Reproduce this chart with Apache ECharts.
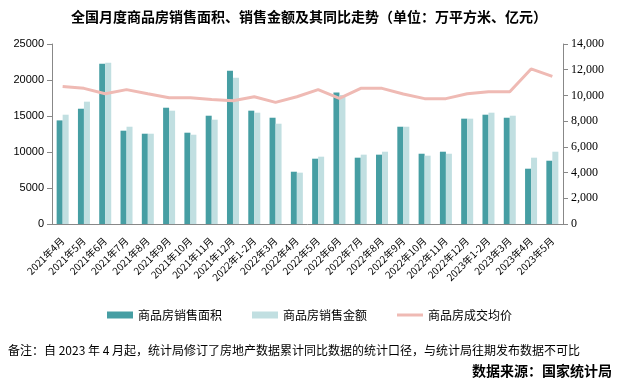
<!DOCTYPE html>
<html>
<head>
<meta charset="utf-8">
<script src="https://cdn.jsdelivr.net/npm/echarts@6/dist/echarts.min.js"></script>
<style>html,body{margin:0;padding:0;background:#fff;}#c{width:623px;height:385px;}</style>
</head>
<body>
<div id="c"></div>
<script>
var categories = ['2021年4月','2021年5月','2021年6月','2021年7月','2021年8月','2021年9月','2021年10月','2021年11月','2021年12月','2022年1-2月','2022年3月','2022年4月','2022年5月','2022年6月','2022年7月','2022年8月','2022年9月','2022年10月','2022年11月','2022年12月','2023年1-2月','2023年3月','2023年4月','2023年5月'];
var salesArea = [14390,16010,22260,12960,12540,16150,12680,15040,21290,15740,14760,7260,9070,18250,9210,9630,13510,9760,10040,14630,15180,14760,7680,8790];
var salesAmount = [15180,16990,22400,13510,12540,15740,12400,14490,20320,15460,13930,7130,9350,17900,9630,10040,13510,9490,9760,14630,15460,15040,9210,10040];
var avgPrice = [10700,10550,10130,10450,10130,9820,9820,9690,9590,9900,9460,9900,10450,9770,10550,10550,10110,9750,9750,10130,10290,10290,12060,11480];
var leftTicks = [0,5000,10000,15000,20000,25000];
var rightTicks = [0,2000,4000,6000,8000,10000,12000,14000];

var chart = echarts.init(document.getElementById('c'));
var cjk = '"Noto Sans CJK SC", sans-serif';
chart.setOption({
  animation: false,
  title: [{
    text: '全国月度商品房销售面积、销售金额及其同比走势（单位：万平方米、亿元）',
    left: 71, top: 10, padding: 0,
    textStyle: {fontFamily: cjk, fontSize: 14, fontWeight: 'bold', color: '#000'}
  }, {
    text: '备注：自 2023 年 4 月起，统计局修订了房地产数据累计同比数据的统计口径，与统计局往期发布数据不可比',
    left: 8, top: 344, padding: 0,
    textStyle: {fontFamily: cjk, fontSize: 12, fontWeight: 'normal', color: '#000'}
  }, {
    text: '数据来源：国家统计局',
    right: 11, top: 364, padding: 0,
    textStyle: {fontFamily: cjk, fontSize: 14, fontWeight: 'bold', color: '#000'}
  }],
  legend: {
    left: 107, top: 309, padding: 0,
    itemWidth: 26, itemHeight: 7, itemGap: 30,
    textStyle: {fontFamily: cjk, fontSize: 12, color: '#000'},
    data: [
      {name: '商品房销售面积', icon: 'rect'},
      {name: '商品房销售金额', icon: 'rect'},
      {name: '商品房成交均价', icon: 'path://M0,0 L26,0 L26,3 L0,3 Z', symbolKeepAspect: true}
    ]
  },
  grid: {left: 52, right: 60, top: 44, bottom: 161, outerBoundsMode: 'none'},
  xAxis: {
    type: 'category', data: categories, boundaryGap: true,
    axisLine: {lineStyle: {color: '#888'}},
    axisTick: {lineStyle: {color: '#888'}},
    axisLabel: {rotate: 45, interval: 0, fontSize: 10, fontFamily: cjk, color: '#000', margin: 15}
  },
  yAxis: [{
    type: 'value', min: leftTicks[0], max: leftTicks[leftTicks.length-1], interval: 5000,
    axisLine: {show: true, lineStyle: {color: '#888'}},
    axisTick: {show: true, lineStyle: {color: '#888'}},
    splitLine: {show: false},
    axisLabel: {fontSize: 11, fontFamily: 'Liberation Sans', color: '#000',
      formatter: function (v) { return String(v); }}
  }, {
    type: 'value', min: rightTicks[0], max: rightTicks[rightTicks.length-1], interval: 2000,
    position: 'right',
    axisLine: {show: true, lineStyle: {color: '#888'}},
    axisTick: {show: true, lineStyle: {color: '#888'}},
    splitLine: {show: false},
    axisLabel: {fontSize: 12, fontFamily: 'Liberation Serif', color: '#000',
      formatter: function (v) { return String(v).replace(/\B(?=(\d{3})+(?!\d))/g, ','); }}
  }],
  series: [{
    name: '商品房销售面积', type: 'bar', yAxisIndex: 0, data: salesArea,
    barWidth: 6, barGap: '0%', itemStyle: {color: '#469ea3'}
  }, {
    name: '商品房销售金额', type: 'bar', yAxisIndex: 0, data: salesAmount,
    barWidth: 6, barGap: '0%', itemStyle: {color: '#c1dfe1'}
  }, {
    name: '商品房成交均价', type: 'line', yAxisIndex: 1, data: avgPrice,
    symbol: 'none', lineStyle: {color: '#efbab4', width: 3}, itemStyle: {color: '#efbab4'}
  }]
});
</script>
</body>
</html>
